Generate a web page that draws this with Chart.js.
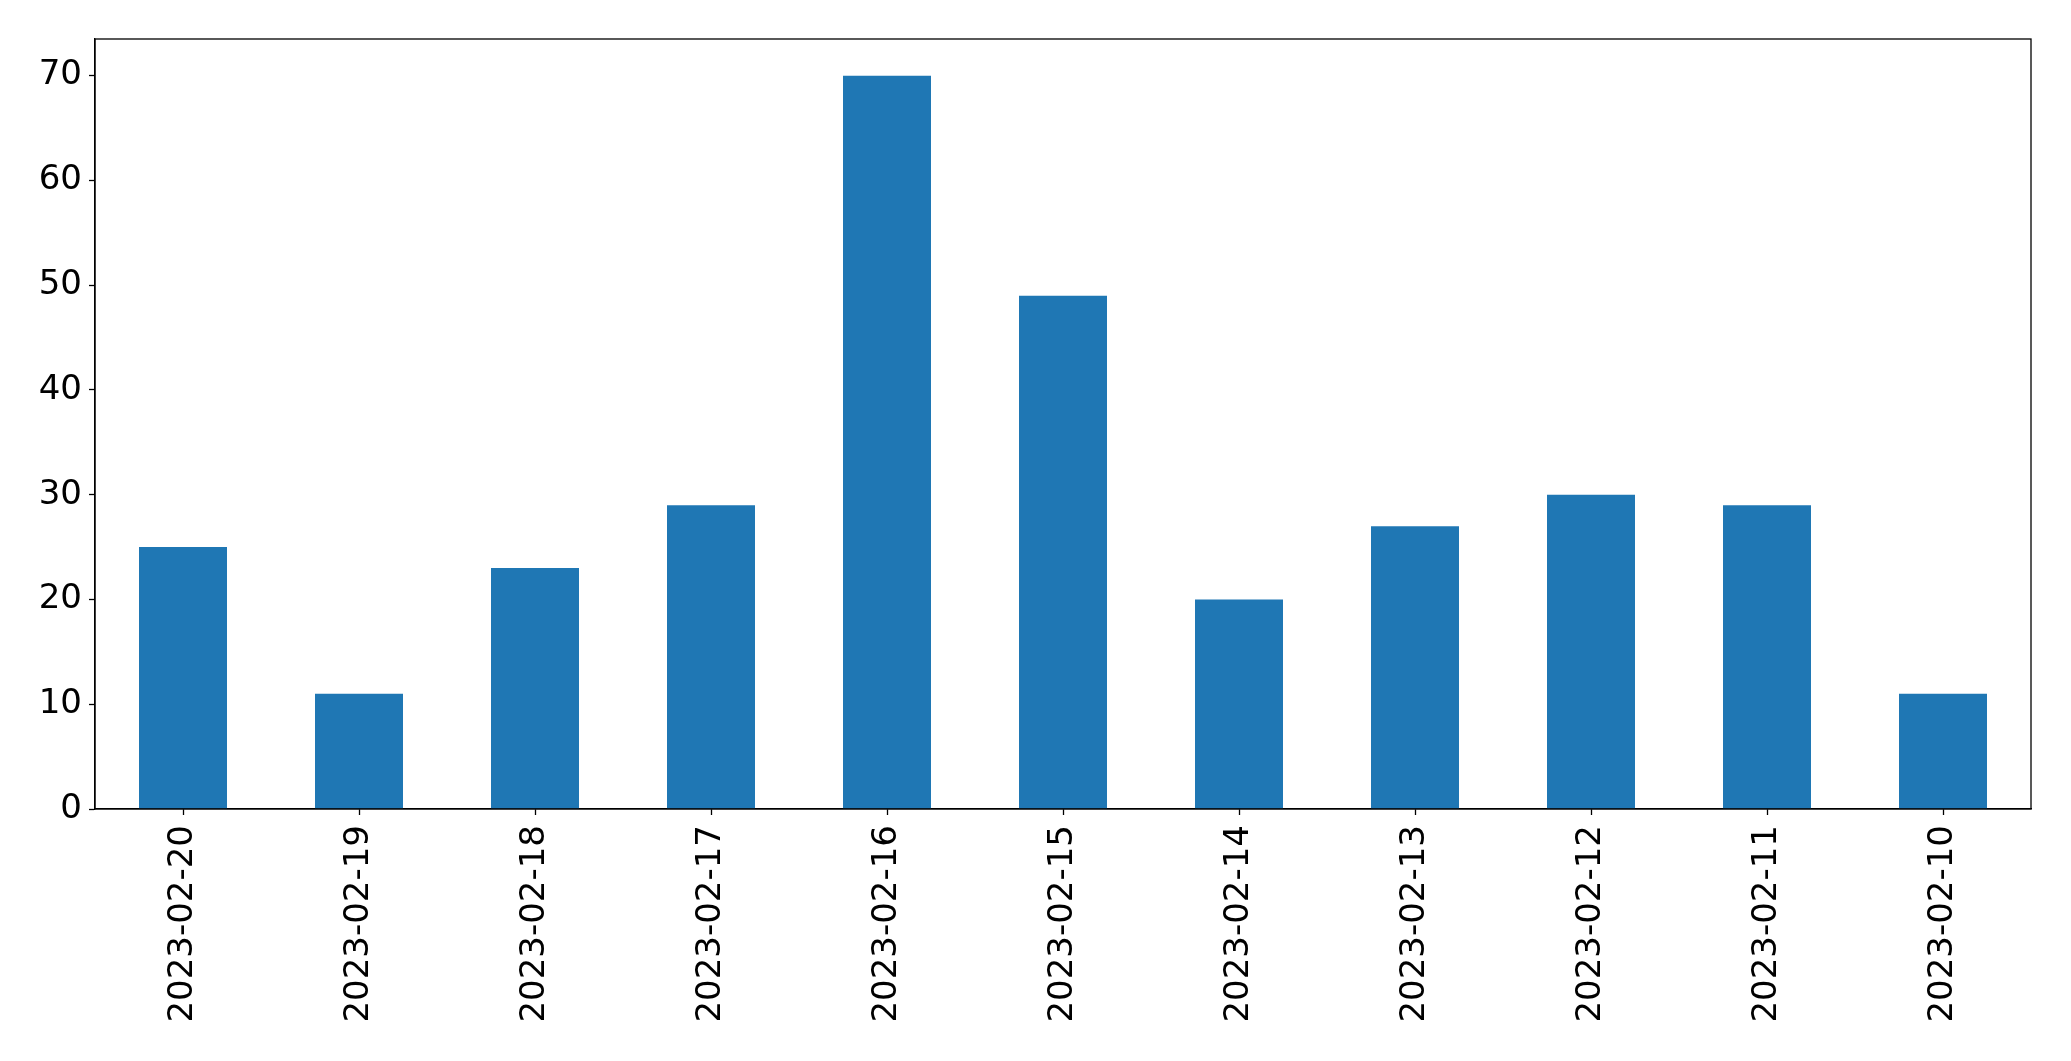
<!DOCTYPE html>
<html>
<head>
<meta charset="utf-8">
<script src="https://cdn.jsdelivr.net/npm/chart.js@4.4.0/dist/chart.umd.min.js"></script>
<style>
html,body{margin:0;padding:0;background:#fff;}
#wrap{width:2071px;height:1061px;}
</style>
</head>
<body>
<div id="wrap"><canvas id="c" width="2071" height="1061"></canvas></div>
<script>
const categories = ["2023-02-20","2023-02-19","2023-02-18","2023-02-17","2023-02-16","2023-02-15","2023-02-14","2023-02-13","2023-02-12","2023-02-11","2023-02-10"];
const values = [25, 11, 23, 29, 70, 49, 20, 27, 30, 29, 11];
const yTicks = [0, 10, 20, 30, 40, 50, 60, 70];

const frame = {
  id: 'frame',
  afterDraw(chart) {
    const a = chart.chartArea, ctx = chart.ctx;
    ctx.save();
    ctx.strokeStyle = '#000';
    ctx.lineWidth = 1.3;
    ctx.strokeRect(a.left, a.top, a.right - a.left, a.bottom - a.top);
    ctx.restore();
  }
};

new Chart(document.getElementById('c'), {
  type: 'bar',
  data: {
    labels: categories,
    datasets: [{
      data: values,
      backgroundColor: '#1f77b4',
      borderWidth: 0,
      categoryPercentage: 0.5,
      barPercentage: 1.0
    }]
  },
  options: {
    responsive: false,
    animation: false,
    devicePixelRatio: 1,
    layout: { padding: { top: 39, right: 40, left: 0, bottom: 0 } },
    plugins: { legend: { display: false }, tooltip: { enabled: false } },
    scales: {
      x: {
        grid: { display: true, offset: false, drawOnChartArea: false, tickLength: 6, color: '#000', tickWidth: 1.3 },
        border: { display: true, color: '#000', width: 1.3 },
        ticks: {
          color: '#000',
          font: { family: 'DejaVu Sans', size: 34 },
          minRotation: 90, maxRotation: 90,
          padding: 10,
          autoSkip: false
        },
        afterFit(s) { s.height = 252; }
      },
      y: {
        min: 0, max: 73.5,
        afterBuildTicks(s) { s.ticks = yTicks.map(v => ({ value: v })); },
        grid: { display: true, drawOnChartArea: false, tickLength: 6, color: '#000', tickWidth: 1.3 },
        border: { display: true, color: '#000', width: 1.3 },
        ticks: {
          color: '#000',
          font: { family: 'DejaVu Sans', size: 34 },
          padding: 7
        },
        afterFit(s) { s.width = 95; }
      }
    }
  },
  plugins: [frame]
});
</script>
</body>
</html>
